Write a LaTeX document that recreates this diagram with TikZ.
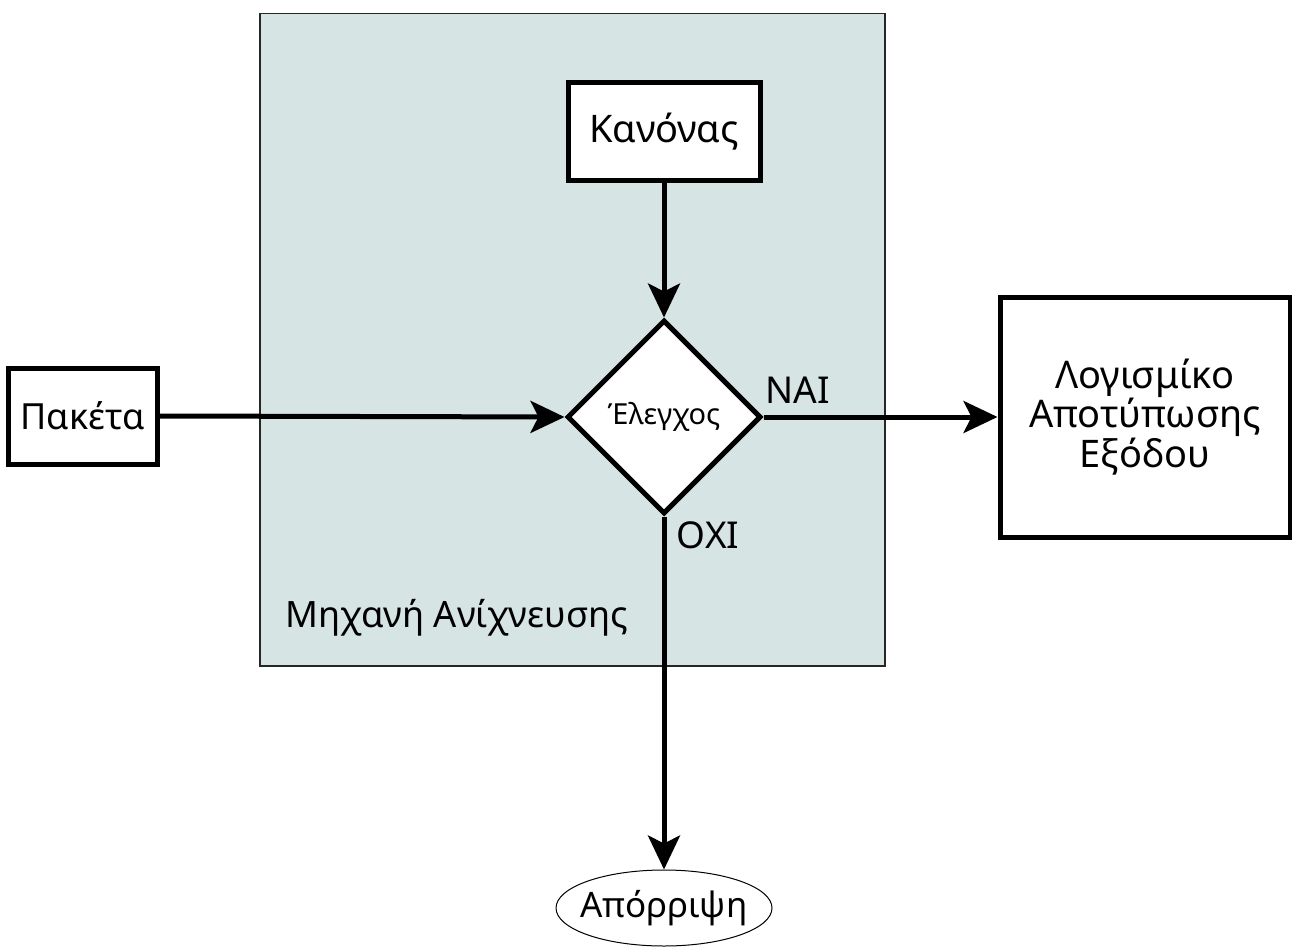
\documentclass[tikz,border=0pt]{standalone}
\usepackage{fontspec}
\setmainfont{Noto Sans}
\usetikzlibrary{shapes.geometric,arrows.meta}
\definecolor{enginefill}{HTML}{D6E4E4}
\tikzset{
  boxnode/.style={draw=black, line width=5pt, fill=white, inner sep=0pt, align=center,
    font=\fontsize{38}{38}\selectfont},
  flow/.style={line width=5pt, -{Stealth[length=34pt,width=32pt,inset=8pt]}},
  tag/.style={font=\fontsize{37}{40}\selectfont, inner sep=0pt},
}
\begin{document}
\begin{tikzpicture}[x=1pt,y=-1pt]
\useasboundingbox (0,0) rectangle (1292,947);
% detection engine container
\node[draw=black!85, line width=1.5pt, fill=enginefill, anchor=north west,
  minimum width=625pt, minimum height=652pt, inner sep=0pt] (engine) at (259,13) {};
\node[tag, font=\fontsize{36.3}{40}\selectfont] (enginelbl) at (457,618) {Μηχανή Ανίχνευσης};
% blocks
\node[boxnode, minimum width=192pt, minimum height=97pt] (rule) at (664,131.5) {Κανόνας};
\node[boxnode, diamond, aspect=1, minimum width=194pt, minimum height=194pt,
  font=\fontsize{29}{30}\selectfont] (check) at (664,417) {Έλεγχος};
\node[boxnode, minimum width=149pt, minimum height=96pt,
  font=\fontsize{36}{38}\selectfont] (packets) at (82.5,416) {Πακέτα};
\node[boxnode, minimum width=290pt, minimum height=240pt] (output) at (1145,417)
  {Λογισμίκο\\Αποτύπωσης\\Εξόδου};
\node[draw=black, line width=1pt, ellipse, minimum width=216pt, minimum height=76pt,
  inner xsep=-12pt, inner ysep=0pt, font=\fontsize{35}{38}\selectfont] (drop) at (664,908) {Απόρριψη};
% connectors
\draw[flow] (packets.east) -- (check.west);
\draw[flow] (rule.south) -- (check.north);
\draw[flow] (check.east) -- (output.west);
\draw[flow] (check.south) -- (drop.north);
% branch labels
\node[tag] (yes) at (798,390) {ΝΑΙ};
\node[tag] (no) at (708,535) {ΟΧΙ};
\end{tikzpicture}
\end{document}
